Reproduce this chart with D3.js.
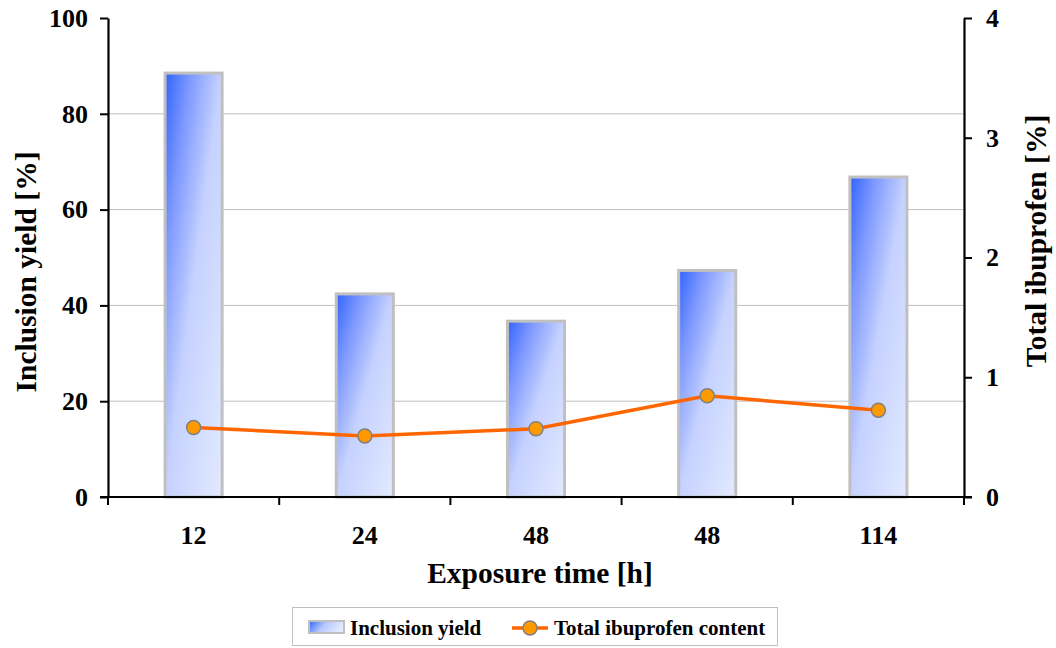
<!DOCTYPE html>
<html>
<head>
<meta charset="utf-8">
<script src="https://cdn.jsdelivr.net/npm/d3@7"></script>
<style>
  html, body { margin: 0; padding: 0; background: #fff; }
  svg { display: block; }
  svg text { font-family: "Liberation Serif", "Times New Roman", serif; font-weight: bold; fill: #000; }
</style>
</head>
<body>
<svg id="chart" width="1056" height="648"></svg>
<script>
// Exposure time categories and the two measured series
const categories = ["12", "24", "48", "48", "114"];
const inclusionYield = [88.5, 42.4, 36.7, 47.3, 66.8];
const ibuprofenContent = [0.58, 0.51, 0.57, 0.845, 0.725];
const leftTicks = [0, 20, 40, 60, 80, 100];
const rightTicks = [0, 1, 2, 3, 4];

const FONT = "'Liberation Serif', 'Times New Roman', serif";
const svg = d3.select("#chart");
const plot = { left: 108, right: 964, top: 18, bottom: 497 };

const x = d3.scaleBand()
  .domain(d3.range(categories.length))
  .range([plot.left, plot.right])
  .paddingInner(0).paddingOuter(0);
const yL = d3.scaleLinear().domain([0, 100]).range([plot.bottom, plot.top]);
const yR = d3.scaleLinear().domain([0, 4]).range([plot.bottom, plot.top]);

// Diagonal blue fill used for the bars and legend swatch
const defs = svg.append("defs");
const grad = defs.append("linearGradient")
  .attr("id", "barGrad")
  .attr("x1", 0).attr("y1", 0).attr("x2", 1).attr("y2", 1);
[[0, "#3063ff"], [0.22, "#7d98ff"], [0.5, "#c6d2ff"], [1, "#e2eaff"]]
  .forEach(([o, c]) => grad.append("stop").attr("offset", o).attr("stop-color", c));
const gradH = defs.append("linearGradient")
  .attr("id", "legGrad")
  .attr("x1", 0).attr("y1", 0).attr("x2", 1).attr("y2", 0.3);
[[0, "#3063ff"], [0.5, "#b8c8ff"], [1, "#e2eaff"]]
  .forEach(([o, c]) => gradH.append("stop").attr("offset", o).attr("stop-color", c));

// Horizontal gridlines
svg.append("g")
  .selectAll("line")
  .data(leftTicks.filter(d => d > 0 && d < 100))
  .join("line")
  .attr("x1", plot.left).attr("x2", plot.right)
  .attr("y1", d => yL(d)).attr("y2", d => yL(d))
  .attr("stroke", "#c0c0c0").attr("stroke-width", 1);

// Bars
const barW = x.bandwidth() / 3;
svg.append("g")
  .selectAll("rect")
  .data(inclusionYield)
  .join("rect")
  .attr("x", (d, i) => x(i) + x.bandwidth() / 2 - barW / 2)
  .attr("y", d => yL(d))
  .attr("width", barW)
  .attr("height", d => yL(0) - yL(d))
  .attr("fill", "url(#barGrad)")
  .attr("stroke", "#c0c0c0")
  .attr("stroke-width", 3);

// Left axis
const axisL = svg.append("g")
  .attr("transform", `translate(${plot.left},0)`)
  .call(d3.axisLeft(yL).tickValues(leftTicks).tickSize(8).tickPadding(12).tickSizeOuter(0));
// Right axis
const axisR = svg.append("g")
  .attr("transform", `translate(${plot.right},0)`)
  .call(d3.axisRight(yR).tickValues(rightTicks).tickFormat(d3.format("d"))
    .tickSize(8).tickPadding(14).tickSizeOuter(0));
// Bottom axis with tick marks at category boundaries
const axisB = svg.append("g")
  .attr("transform", `translate(0,${plot.bottom})`)
  .call(d3.axisBottom(x).tickFormat(i => categories[i]).tickSize(0).tickPadding(29));
axisB.selectAll(".tick line").remove();
axisB.append("g")
  .selectAll("line")
  .data(d3.range(categories.length + 1))
  .join("line")
  .attr("x1", i => i < categories.length ? x(i) : plot.right)
  .attr("x2", i => i < categories.length ? x(i) : plot.right)
  .attr("y1", 0).attr("y2", 8)
  .attr("stroke", "#000").attr("stroke-width", 2);

[axisL, axisR, axisB].forEach(g => {
  g.attr("font-family", FONT);
  g.selectAll(".domain").attr("stroke", "#000").attr("stroke-width", 2.2);
  g.selectAll(".tick line").attr("stroke", "#000").attr("stroke-width", 2);
  g.selectAll("text")
    .attr("font-family", FONT)
    .attr("font-weight", "bold")
    .attr("font-size", 26)
    .attr("fill", "#000");
});
axisB.select(".domain").attr("d", `M${plot.left - 8},0H${plot.right + 8}`);

// Line series on the right axis
const line = d3.line()
  .x((d, i) => x(i) + x.bandwidth() / 2)
  .y(d => yR(d));
svg.append("path")
  .datum(ibuprofenContent)
  .attr("d", line)
  .attr("fill", "none")
  .attr("stroke", "#ff6600")
  .attr("stroke-width", 3.5);
svg.append("g")
  .selectAll("circle")
  .data(ibuprofenContent)
  .join("circle")
  .attr("cx", (d, i) => x(i) + x.bandwidth() / 2)
  .attr("cy", d => yR(d))
  .attr("r", 7)
  .attr("fill", "#ff9900")
  .attr("stroke", "#808080")
  .attr("stroke-width", 1.5);

// Axis titles
svg.append("text")
  .attr("x", 540).attr("y", 583)
  .attr("text-anchor", "middle").attr("font-size", 29.5)
  .attr("font-family", FONT).attr("font-weight", "bold")
  .text("Exposure time [h]");
svg.append("text")
  .attr("transform", "translate(36,272) rotate(-90)")
  .attr("text-anchor", "middle").attr("font-size", 29.5)
  .attr("font-family", FONT).attr("font-weight", "bold")
  .text("Inclusion yield [%]");
svg.append("text")
  .attr("transform", "translate(1046,241) rotate(-90)")
  .attr("text-anchor", "middle").attr("font-size", 29.5)
  .attr("font-family", FONT).attr("font-weight", "bold")
  .text("Total ibuprofen [%]");

// Legend
const leg = svg.append("g").attr("font-family", FONT);
leg.append("rect")
  .attr("x", 292.5).attr("y", 607.5).attr("width", 485).attr("height", 38)
  .attr("fill", "#fff").attr("stroke", "#c0c0c0").attr("stroke-width", 1);
leg.append("rect")
  .attr("x", 309).attr("y", 621).attr("width", 35).attr("height", 12)
  .attr("fill", "url(#legGrad)").attr("stroke", "#c0c0c0").attr("stroke-width", 2);
leg.append("text")
  .attr("x", 350).attr("y", 635).attr("font-size", 21)
  .attr("font-family", FONT).attr("font-weight", "bold")
  .text("Inclusion yield");
leg.append("line")
  .attr("x1", 512).attr("x2", 548).attr("y1", 628).attr("y2", 628)
  .attr("stroke", "#ff6600").attr("stroke-width", 3.5);
leg.append("circle")
  .attr("cx", 530).attr("cy", 628).attr("r", 7)
  .attr("fill", "#ff9900").attr("stroke", "#808080").attr("stroke-width", 1.5);
leg.append("text")
  .attr("x", 554).attr("y", 635).attr("font-size", 21)
  .attr("font-family", FONT).attr("font-weight", "bold")
  .text("Total ibuprofen content");
</script>
</body>
</html>
